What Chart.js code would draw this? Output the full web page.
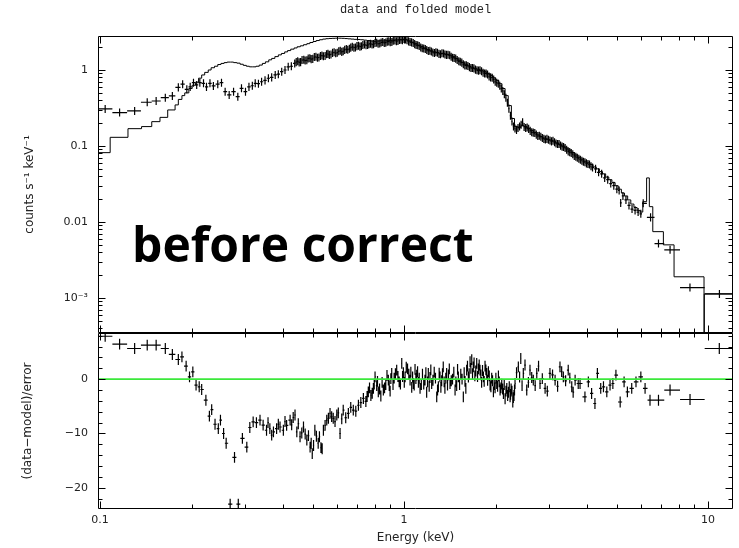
<!DOCTYPE html>
<html>
<head>
<meta charset="utf-8">
<script src="https://cdn.jsdelivr.net/npm/chart.js@4.4.1/dist/chart.umd.min.js"></script>
<style>
  body { margin: 0; background: #fff; }
  #wrap { position: relative; width: 739px; height: 548px; }
  #wrap canvas { position: absolute; left: 0; }
  #spec { top: 0; }
  #resid { top: 312px; }
  #stamp {
    position: absolute; left: 132px; top: 220px;
    font: bold 48px "Open Sans", sans-serif; line-height: 1;
    color: #000; white-space: nowrap;
  }
</style>
</head>
<body>
<div id="wrap">
  <canvas id="spec" width="739" height="354"></canvas>
  <canvas id="resid" width="739" height="236"></canvas>
  <div id="stamp">before correct</div>
</div>
<script>
// axis ranges and labelled ticks
const energyRange = [0.0985, 12.08]
const countRange = [3.46e-4, 2.8]
const residRange = [-23.9, 8.5]

const energyTicks = [0.1, 1, 10]
const energyLabels = ['0.1', '1', '10']
const countTicks = [0.001, 0.01, 0.1, 1]
const countLabels = ['10⁻³', '0.01', '0.1', '1']
const residTicks = [-20, -10, 0]
const residLabels = ['−20', '−10', '0']

// fractional 1-sigma on the folded counts; residuals are already in sigma
const countRelErr = 0.13
const residErr = 1

// [energy keV, counts s-1 keV-1]
const spectrum = [
  [0.104, 0.307], [0.116, 0.275], [0.130, 0.289], [0.143, 0.376], [0.153, 0.391],
  [0.164, 0.432], [0.173, 0.455], [0.181, 0.59], [0.187, 0.65], [0.193, 0.557],
  [0.198, 0.60], [0.203, 0.68], [0.208, 0.635], [0.213, 0.68], [0.219, 0.668],
  [0.224, 0.60], [0.230, 0.668], [0.236, 0.616], [0.244, 0.65], [0.251, 0.68],
  [0.258, 0.518], [0.266, 0.469], [0.275, 0.518], [0.284, 0.445], [0.292, 0.574],
  [0.301, 0.518], [0.309, 0.60], [0.317, 0.62], [0.324, 0.668], [0.332, 0.66],
  [0.340, 0.70], [0.349, 0.73], [0.358, 0.778], [0.367, 0.80], [0.377, 0.86],
  [0.386, 0.88], [0.396, 0.95], [0.406, 1.00], [0.416, 1.10], [0.426, 1.12],
  [0.437, 1.22], [0.442, 1.27], [0.447, 1.30], [0.452, 1.26], [0.457, 1.27],
  [0.462, 1.35], [0.468, 1.36], [0.473, 1.33], [0.479, 1.34], [0.484, 1.42],
  [0.490, 1.43], [0.495, 1.39], [0.501, 1.40], [0.507, 1.48], [0.513, 1.49],
  [0.519, 1.45], [0.525, 1.46], [0.531, 1.53], [0.537, 1.55], [0.543, 1.52],
  [0.550, 1.53], [0.556, 1.61], [0.562, 1.63], [0.568, 1.58], [0.575, 1.60],
  [0.582, 1.68], [0.589, 1.71], [0.596, 1.66], [0.603, 1.69], [0.610, 1.76],
  [0.617, 1.79], [0.624, 1.73], [0.631, 1.76], [0.638, 1.84], [0.646, 1.88],
  [0.653, 1.85], [0.661, 1.90], [0.668, 1.97], [0.676, 2.02], [0.684, 1.96],
  [0.692, 1.98], [0.700, 2.06], [0.708, 2.08], [0.716, 2.03], [0.724, 2.05],
  [0.732, 2.13], [0.741, 2.16], [0.750, 2.11], [0.759, 2.13], [0.767, 2.19],
  [0.776, 2.22], [0.785, 2.16], [0.794, 2.19], [0.803, 2.26], [0.813, 2.28],
  [0.822, 2.21], [0.832, 2.23], [0.841, 2.30], [0.851, 2.33], [0.861, 2.27],
  [0.871, 2.29], [0.881, 2.36], [0.891, 2.38], [0.901, 2.32], [0.912, 2.34],
  [0.922, 2.42], [0.933, 2.45], [0.944, 2.39], [0.955, 2.41], [0.966, 2.48],
  [0.977, 2.51], [0.988, 2.47], [1.000, 2.55], [1.011, 2.52], [1.023, 2.47],
  [1.035, 2.38], [1.047, 2.33], [1.059, 2.31], [1.072, 2.27], [1.084, 2.19],
  [1.096, 2.13], [1.109, 2.11], [1.122, 2.07], [1.135, 1.98], [1.148, 1.93],
  [1.161, 1.92], [1.175, 1.89], [1.188, 1.83], [1.202, 1.78], [1.216, 1.79],
  [1.230, 1.75], [1.244, 1.70], [1.259, 1.67], [1.273, 1.71], [1.288, 1.69],
  [1.303, 1.63], [1.318, 1.61], [1.333, 1.66], [1.349, 1.65], [1.364, 1.60],
  [1.380, 1.58], [1.396, 1.59], [1.413, 1.56], [1.429, 1.49], [1.445, 1.45],
  [1.462, 1.44], [1.479, 1.41], [1.496, 1.35], [1.514, 1.30], [1.531, 1.28],
  [1.549, 1.25], [1.567, 1.19], [1.585, 1.15], [1.603, 1.15], [1.622, 1.13],
  [1.641, 1.09], [1.660, 1.06], [1.679, 1.06], [1.698, 1.05], [1.718, 1.01],
  [1.738, 0.99], [1.758, 0.98], [1.778, 0.99], [1.799, 0.96], [1.820, 0.92],
  [1.841, 0.90], [1.862, 0.90], [1.883, 0.87], [1.905, 0.82], [1.927, 0.80],
  [1.950, 0.79], [1.972, 0.75], [1.995, 0.70], [2.018, 0.68], [2.042, 0.66],
  [2.065, 0.62], [2.089, 0.57], [2.113, 0.53], [2.138, 0.48], [2.163, 0.43],
  [2.188, 0.37], [2.213, 0.31], [2.239, 0.25], [2.265, 0.21], [2.291, 0.18],
  [2.317, 0.17], [2.344, 0.163], [2.371, 0.172], [2.399, 0.18], [2.427, 0.19],
  [2.455, 0.205], [2.483, 0.178], [2.512, 0.172], [2.541, 0.175], [2.570, 0.168],
  [2.600, 0.158], [2.630, 0.152], [2.661, 0.150], [2.692, 0.148], [2.723, 0.141],
  [2.754, 0.135], [2.786, 0.136], [2.818, 0.132], [2.851, 0.127], [2.884, 0.124],
  [2.917, 0.122], [2.951, 0.124], [2.985, 0.121], [3.020, 0.118], [3.055, 0.115],
  [3.090, 0.117], [3.126, 0.112], [3.162, 0.108], [3.199, 0.106], [3.236, 0.106],
  [3.273, 0.101], [3.311, 0.098], [3.349, 0.097], [3.388, 0.094], [3.427, 0.089],
  [3.467, 0.085], [3.507, 0.083], [3.548, 0.081], [3.589, 0.078], [3.631, 0.074],
  [3.673, 0.072], [3.715, 0.070], [3.758, 0.068], [3.802, 0.066], [3.846, 0.064],
  [3.890, 0.062], [3.935, 0.061], [3.981, 0.059], [4.027, 0.058], [4.074, 0.057],
  [4.121, 0.054], [4.169, 0.052], [4.266, 0.050], [4.365, 0.045], [4.467, 0.043],
  [4.571, 0.038], [4.677, 0.036], [4.786, 0.032], [4.898, 0.030], [5.012, 0.027],
  [5.10, 0.026], [5.16, 0.0178], [5.248, 0.022], [5.370, 0.0195], [5.495, 0.0165],
  [5.623, 0.0148], [5.754, 0.0142], [5.888, 0.0135], [6.01, 0.0128], [6.12, 0.0176],
  [6.47, 0.0115], [6.87, 0.0052], [7.50, 0.0043], [8.72, 0.00137], [10.9, 0.00113]
]

// folded model, [bin low edge keV, counts s-1 keV-1]; last entry closes the final bin
const model = [
  [0.0985, 0.0817], [0.108, 0.13], [0.1236, 0.169], [0.137, 0.18], [0.148, 0.209],
  [0.1575, 0.238], [0.167, 0.298], [0.1766, 0.347], [0.181, 0.41], [0.186, 0.46],
  [0.190, 0.50], [0.196, 0.57], [0.201, 0.63], [0.206, 0.69], [0.211, 0.78],
  [0.216, 0.86], [0.221, 0.93], [0.227, 1.00], [0.232, 1.07], [0.238, 1.12],
  [0.244, 1.18], [0.250, 1.22], [0.256, 1.25], [0.262, 1.27], [0.269, 1.27],
  [0.275, 1.25], [0.282, 1.23], [0.289, 1.19], [0.296, 1.15], [0.303, 1.12],
  [0.310, 1.10], [0.318, 1.10], [0.326, 1.12], [0.334, 1.16], [0.342, 1.22],
  [0.350, 1.28], [0.359, 1.36], [0.367, 1.42], [0.376, 1.50], [0.386, 1.58],
  [0.395, 1.65], [0.405, 1.73], [0.414, 1.80], [0.424, 1.88], [0.435, 1.95],
  [0.445, 2.02], [0.456, 2.08], [0.467, 2.15], [0.479, 2.22], [0.490, 2.30],
  [0.502, 2.37], [0.514, 2.44], [0.527, 2.50], [0.540, 2.55], [0.553, 2.58],
  [0.566, 2.60], [0.580, 2.61], [0.594, 2.62], [0.608, 2.62], [0.623, 2.61],
  [0.638, 2.59], [0.653, 2.57], [0.669, 2.55], [0.685, 2.53], [0.702, 2.52],
  [0.719, 2.50], [0.736, 2.47], [0.754, 2.44], [0.772, 2.41], [0.791, 2.38],
  [0.810, 2.40], [0.830, 2.42], [0.850, 2.41], [0.870, 2.43], [0.891, 2.45],
  [0.913, 2.47], [0.935, 2.49], [0.957, 2.51], [0.980, 2.52], [1.004, 2.50],
  [1.028, 2.42], [1.053, 2.32], [1.078, 2.22], [1.104, 2.12], [1.131, 2.03],
  [1.158, 1.95], [1.186, 1.86], [1.215, 1.79], [1.244, 1.73], [1.274, 1.69],
  [1.305, 1.65], [1.336, 1.63], [1.368, 1.61], [1.401, 1.57], [1.435, 1.50],
  [1.470, 1.42], [1.505, 1.34], [1.541, 1.26], [1.578, 1.19], [1.616, 1.13],
  [1.655, 1.09], [1.695, 1.05], [1.736, 1.02], [1.778, 0.99], [1.821, 0.95],
  [1.864, 0.90], [1.909, 0.85], [1.955, 0.79], [2.002, 0.73], [2.050, 0.66],
  [2.100, 0.57], [2.150, 0.46], [2.202, 0.34], [2.255, 0.23], [2.309, 0.18],
  [2.365, 0.175], [2.422, 0.185], [2.480, 0.18], [2.540, 0.17], [2.601, 0.16],
  [2.664, 0.15], [2.728, 0.14], [2.794, 0.133], [2.861, 0.127], [2.930, 0.123],
  [3.000, 0.120], [3.073, 0.116], [3.147, 0.110], [3.222, 0.105], [3.300, 0.100],
  [3.380, 0.094], [3.461, 0.088], [3.544, 0.082], [3.630, 0.076], [3.717, 0.071],
  [3.807, 0.067], [3.899, 0.063], [3.992, 0.060], [4.088, 0.057], [4.187, 0.053],
  [4.288, 0.050], [4.391, 0.046], [4.497, 0.043], [4.605, 0.039], [4.716, 0.036],
  [4.829, 0.033], [4.946, 0.030], [5.065, 0.027], [5.187, 0.024], [5.312, 0.022],
  [5.440, 0.0195], [5.571, 0.0172], [5.705, 0.0155], [5.843, 0.0142], [5.983, 0.0135],
  [6.10, 0.0185], [6.28, 0.038], [6.41, 0.0159], [6.58, 0.00746], [7.13, 0.0050],
  [7.73, 0.0019], [9.70, 1e-6], [9.72, 0.00113], [12.3, 0.00113]
]

// [energy keV, (data-model)/error]
const residuals = [
  [0.104, 7.9], [0.116, 6.45], [0.130, 5.65], [0.143, 6.26], [0.153, 6.26],
  [0.164, 5.65], [0.173, 4.55], [0.181, 3.62], [0.186, 4.1], [0.192, 2.4],
  [0.197, 0.43], [0.202, 1.35], [0.207, -1.1], [0.212, -1.4], [0.216, -1.9],
  [0.223, -3.87], [0.229, -6.8], [0.233, -5.6], [0.239, -8.3], [0.245, -9.1],
  [0.249, -7.55], [0.255, -10.0], [0.260, -11.8], [0.268, -23.0], [0.277, -14.4],
  [0.285, -23.0], [0.294, -10.9], [0.304, -12.5], [0.311, -8.9], [0.319, -7.86],
  [0.327, -8.0], [0.336, -7.55], [0.344, -8.47], [0.353, -9.4], [0.357, -8.0],
  [0.362, -9.1], [0.367, -10.3], [0.372, -9.7], [0.381, -9.1], [0.386, -8.3],
  [0.391, -8.8], [0.401, -9.4], [0.406, -7.8], [0.411, -8.5], [0.422, -7.55],
  [0.427, -8.4], [0.432, -7.06], [0.438, -6.6], [0.444, -9.7], [0.449, -8.2],
  [0.455, -10.6], [0.461, -9.9], [0.467, -8.8], [0.473, -10.1], [0.479, -11.2],
  [0.485, -10.4], [0.491, -12.5], [0.495, -11.8], [0.499, -13.7], [0.504, -12.2],
  [0.509, -9.4], [0.515, -10.5], [0.522, -11.8], [0.527, -10.6], [0.533, -12.6],
  [0.538, -12.8], [0.543, -9.4], [0.550, -8.5], [0.557, -7.55], [0.564, -7.2],
  [0.571, -6.3], [0.578, -6.9], [0.585, -7.2], [0.593, -7.8], [0.601, -6.6],
  [0.608, -6.2], [0.616, -10.0], [0.624, -7.3], [0.631, -5.7], [0.643, -7.1],
  [0.656, -6.3], [0.668, -5.2], [0.681, -5.7], [0.694, -5.9], [0.708, -4.8],
  [0.721, -4.3], [0.735, -3.55], [0.749, -4.1], [0.756, -3.2], [0.763, -2.34],
  [0.770, -1.6], [0.778, -3.0], [0.786, -2.6], [0.793, -1.7], [0.798, -0.9],
  [0.803, 0.43], [0.813, -1.2], [0.818, -0.4], [0.823, -2.34], [0.831, -1.8],
  [0.839, -3.1], [0.847, -0.6], [0.855, -2.0], [0.863, -1.6], [0.871, -1.0],
  [0.879, 0.7], [0.888, -0.18], [0.894, -1.2], [0.900, -2.2], [0.905, 0.1],
  [0.911, 1.05], [0.920, -1.0], [0.928, 0.2], [0.937, 1.0], [0.946, 1.66],
  [0.955, 0.5], [0.964, -0.5], [0.973, -0.9], [0.983, 2.9], [0.989, 0.5],
  [0.995, 1.2], [1.002, -0.6], [1.008, 0.43], [1.017, 2.2], [1.027, 1.9],
  [1.037, 0.9], [1.047, -0.18], [1.053, 1.3], [1.060, -1.5], [1.067, 0.4],
  [1.073, -0.8], [1.080, -1.1], [1.087, 1.8], [1.094, 0.1], [1.101, 0.74],
  [1.108, 1.4], [1.115, -0.6], [1.122, 0.2], [1.129, -1.7], [1.140, -1.0],
  [1.150, 0.9], [1.161, -0.9], [1.172, -0.18], [1.180, 1.2], [1.187, -2.4],
  [1.195, -0.5], [1.202, 1.05], [1.210, -1.3], [1.217, 0.3], [1.225, 1.7],
  [1.233, -0.8], [1.245, -0.2], [1.257, 1.3], [1.269, 0.2], [1.281, -3.26],
  [1.289, -2.0], [1.297, -1.4], [1.305, 1.1], [1.313, 0.43], [1.322, -1.5],
  [1.330, -0.3], [1.338, 1.0], [1.346, 2.27], [1.355, -0.5], [1.363, -1.7],
  [1.372, 0.2], [1.381, 1.05], [1.390, -1.1], [1.400, 0.8], [1.409, 1.9],
  [1.417, -0.8], [1.430, -0.3], [1.444, 0.0], [1.458, 1.3], [1.472, -2.0],
  [1.481, -0.5], [1.490, -1.2], [1.500, 1.8], [1.509, 0.43], [1.523, -1.0],
  [1.537, 0.9], [1.552, 0.0], [1.567, -3.26], [1.577, 1.2], [1.587, -0.4],
  [1.597, -1.7], [1.607, 1.66], [1.617, 2.4], [1.628, 0.4], [1.638, 1.0],
  [1.649, 3.2], [1.659, 2.0], [1.670, 3.6], [1.680, 1.0], [1.690, 2.27],
  [1.700, 3.0], [1.710, 0.6], [1.722, 1.5], [1.734, 2.9], [1.745, 0.5],
  [1.756, 1.9], [1.767, 2.6], [1.778, 1.66], [1.789, 0.8], [1.800, -0.6],
  [1.812, 1.6], [1.824, 0.43], [1.835, -0.4], [1.847, 2.4], [1.859, 1.7],
  [1.871, 1.05], [1.883, -0.2], [1.895, 1.4], [1.907, 0.6], [1.919, -1.1],
  [1.931, -1.4], [1.943, 0.2], [1.955, -0.3], [1.968, -2.34], [1.980, -1.0],
  [1.993, -1.6], [2.005, 0.2], [2.018, -0.8], [2.031, -1.3], [2.044, 0.6],
  [2.057, -0.5], [2.070, -2.0], [2.083, -1.6], [2.096, -0.9], [2.110, -1.8],
  [2.123, -2.63], [2.136, -1.0], [2.150, -3.6], [2.164, -2.2], [2.178, -1.7],
  [2.192, -3.0], [2.205, -2.4], [2.219, -1.4], [2.233, -3.26], [2.241, -2.8],
  [2.250, -1.8], [2.265, -2.2], [2.279, -4.2], [2.289, -3.4], [2.300, -3.0],
  [2.309, -2.0], [2.318, -0.8], [2.345, 1.2], [2.377, 2.27], [2.400, 0.4],
  [2.421, 3.8], [2.445, -1.2], [2.468, 1.05], [2.500, 2.6], [2.533, -2.0],
  [2.565, -0.6], [2.596, 1.66], [2.630, 0.3], [2.662, -0.18], [2.700, -1.2],
  [2.733, 1.05], [2.770, 2.4], [2.801, -0.8], [2.850, 0.1], [2.911, -1.7],
  [2.960, -2.2], [3.020, 1.05], [3.080, 0.8], [3.140, -0.18], [3.200, -1.3],
  [3.258, 2.27], [3.300, 1.4], [3.342, 0.43], [3.400, -0.3], [3.468, 1.66],
  [3.510, 0.2], [3.562, -1.4], [3.600, -2.4], [3.654, -0.18], [3.741, -0.8],
  [3.793, -0.8], [3.936, -3.26], [4.039, -0.5], [4.140, -2.63], [4.246, -4.48],
  [4.325, 1.05], [4.436, -1.7], [4.529, -1.4], [4.645, -2.34], [4.760, -1.1],
  [4.863, -0.8], [4.977, 0.74], [5.140, -4.2], [5.295, -0.5], [5.428, -2.34],
  [5.610, -1.7], [5.794, -0.5], [6.011, 0.43], [6.207, -1.7], [6.443, -3.87],
  [6.870, -3.87], [7.499, -2.0], [8.724, -3.74], [10.89, 5.65]
]

// unlabelled tick marks
function logMinors(decades) {
  const out = []
  decades.forEach(d => { for (let m = 2; m <= 9; m++) out.push(m * d) })
  return out
}
const energyMinor = logMinors([0.1, 1])
const countMinor = logMinors([1e-4, 1e-3, 1e-2, 0.1, 1])
const residMinor = []
for (let v = -22; v <= 8; v += 2) if (v % 10 !== 0) residMinor.push(v)

// each point becomes a cross: bin width across, error bar up and down,
// drawn as line segments separated by null gaps
function crosses(points, lowOf, highOf) {
  const pts = points.slice().sort((a, b) => a[0] - b[0])
  const out = []
  pts.forEach(([e, v], i) => {
    let lo = i > 0 ? Math.sqrt(pts[i - 1][0] * e) : null
    let hi = i < pts.length - 1 ? Math.sqrt(e * pts[i + 1][0]) : null
    if (lo === null) lo = e * e / hi
    if (hi === null) hi = e * e / lo
    out.push(
      { x: lo, y: v }, { x: hi, y: v }, { x: e, y: null },
      { x: e, y: lowOf(v) }, { x: e, y: highOf(v) }, { x: e, y: null }
    )
  })
  return out
}

// PGPLOT-style box: frame with inward ticks on all four sides
function frameTicks(yMajor, yMinor) {
  return {
    id: 'frameTicks',
    afterDraw(chart) {
      const { ctx, chartArea: a, scales: { x, y } } = chart
      const L = Math.round(a.left) + 0.5, R = Math.round(a.right) - 0.5
      const T = Math.round(a.top) + 0.5, B = Math.round(a.bottom) - 0.5
      ctx.save()
      ctx.strokeStyle = '#000'
      ctx.lineWidth = 1
      ctx.beginPath()
      ctx.rect(L, T, R - L, B - T)
      const xMarks = (vals, len) => vals.forEach(v => {
        const p = Math.round(x.getPixelForValue(v)) + 0.5
        if (p < L || p > R) return
        ctx.moveTo(p, T); ctx.lineTo(p, T + len)
        ctx.moveTo(p, B); ctx.lineTo(p, B - len)
      })
      const yMarks = (vals, len) => vals.forEach(v => {
        const p = Math.round(y.getPixelForValue(v)) + 0.5
        if (p < T || p > B) return
        ctx.moveTo(L, p); ctx.lineTo(L + len, p)
        ctx.moveTo(R, p); ctx.lineTo(R - len, p)
      })
      xMarks(energyTicks, 7)
      xMarks(energyMinor, 4)
      yMarks(yMajor, 7)
      yMarks(yMinor, 4)
      ctx.stroke()
      ctx.restore()
    }
  }
}

Chart.defaults.font.family = '"DejaVu Sans", sans-serif'
Chart.defaults.font.size = 11
Chart.defaults.color = '#222'

const common = {
  responsive: false,
  animation: false,
  events: [],
  plugins: { legend: { display: false }, tooltip: { enabled: false } }
}

const lineStyle = { showLine: true, borderColor: '#000', borderWidth: 1, pointRadius: 0, spanGaps: false }
const crossStyle = { ...lineStyle, borderWidth: 1.2 }
const titleFont = { size: 12 }

new Chart(document.getElementById('spec'), {
  type: 'scatter',
  data: {
    datasets: [
      { ...crossStyle, data: crosses(spectrum, v => v / (1 + countRelErr), v => v * (1 + countRelErr)) },
      { ...lineStyle, stepped: 'before', data: model.map(([e, v]) => ({ x: e, y: v })) }
    ]
  },
  options: {
    ...common,
    // the spare 21px at the bottom sits under the residual canvas
    layout: { padding: { top: 0, right: 6, bottom: 21, left: 0 } },
    plugins: {
      ...common.plugins,
      title: {
        display: true,
        fullSize: false,
        text: 'data and folded model',
        color: '#222',
        font: { family: '"Liberation Mono", monospace', size: 12, weight: 'normal' },
        padding: { top: 3, bottom: 18.6 }
      }
    },
    scales: {
      x: { type: 'logarithmic', min: energyRange[0], max: energyRange[1], bounds: 'data', display: false },
      y: {
        type: 'logarithmic', min: countRange[0], max: countRange[1], bounds: 'data',
        grid: { display: false, drawTicks: false },
        border: { display: false },
        afterFit: s => { s.width = 98 },
        afterBuildTicks: s => { s.ticks = countTicks.map(v => ({ value: v })) },
        ticks: { padding: 10, autoSkip: false, callback: (v, i) => countLabels[i] },
        title: { display: true, text: 'counts s⁻¹ keV⁻¹', font: titleFont, padding: { top: 22.8, bottom: 0 } }
      }
    }
  },
  plugins: [frameTicks(countTicks, countMinor)]
})

new Chart(document.getElementById('resid'), {
  type: 'scatter',
  data: {
    datasets: [
      {
        showLine: true, borderColor: '#3be83b', borderWidth: 1.6, pointRadius: 0,
        data: [{ x: energyRange[0], y: 0 }, { x: energyRange[1], y: 0 }]
      },
      { ...crossStyle, data: crosses(residuals, v => v - residErr, v => v + residErr) }
    ]
  },
  options: {
    ...common,
    layout: { padding: { top: 21, right: 6, bottom: 0, left: 0 } },
    scales: {
      x: {
        type: 'logarithmic', min: energyRange[0], max: energyRange[1], bounds: 'data',
        grid: { display: false, drawTicks: false },
        border: { display: false },
        afterFit: s => { s.height = 39 },
        afterBuildTicks: s => { s.ticks = energyTicks.map(v => ({ value: v })) },
        ticks: { padding: 5, autoSkip: false, maxRotation: 0, callback: (v, i) => energyLabels[i] },
        title: { display: true, text: 'Energy (keV)', font: titleFont, padding: { top: 0, bottom: 2.8 } }
      },
      y: {
        type: 'linear', min: residRange[0], max: residRange[1], bounds: 'data',
        grid: { display: false, drawTicks: false },
        border: { display: false },
        afterFit: s => { s.width = 98 },
        afterBuildTicks: s => { s.ticks = residTicks.map(v => ({ value: v })) },
        ticks: { padding: 10, autoSkip: false, callback: (v, i) => residLabels[i] },
        title: { display: true, text: '(data−model)/error', font: titleFont, padding: { top: 20.8, bottom: 0 } }
      }
    }
  },
  plugins: [frameTicks(residTicks, residMinor)]
})
</script>
</body>
</html>
